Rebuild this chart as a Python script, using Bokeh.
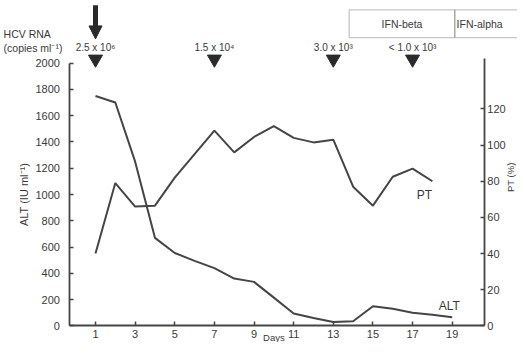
import math
from bokeh.plotting import figure
from bokeh.models import (Range1d, LinearAxis, FixedTicker, Label, Arrow, NormalHead,
                          BoxAnnotation, PolyAnnotation)
from bokeh.core.properties import value
from bokeh.embed import file_html
from bokeh.resources import INLINE

# ---------------- data ----------------
days = list(range(1, 20))
alt = [1750, 1700, 1250, 670, 555, 495, 440, 360, 335, 215, 95, 60, 30, 35, 150, 130, 100, 85, 65]
pt_days = list(range(1, 19))
pt = [40, 79, 66, 66.5, 82, 95, 108, 96, 104.5, 110.5, 104, 101.5, 103, 77, 66.5, 82.5, 87, 80]
rna_days = [1, 7, 13, 17]
rna_labels = ["2.5 x 10\u2076", "1.5 x 10\u2074", "3.0 x 10\u00b3", "< 1.0 x 10\u00b3"]
x_ticks = [1, 3, 5, 7, 9, 11, 13, 15, 17, 19]
alt_ticks = [0, 200, 400, 600, 800, 1000, 1200, 1400, 1600, 1800, 2000]
pt_ticks = [0, 20, 40, 60, 80, 100, 120]
ifn_beta_start = 13.8
ifn_alpha_start = 19.13
treatment_day = 1

# axis placement (days)
x_left, x_right = -0.29, 20.62

FONT = value("Liberation Sans")
TXT = "#3a3a3a"
LINE = "#454545"

p = figure(width=517, height=342, x_range=Range1d(-3.794, 22.295), y_range=Range1d(-126.3, 2476.4),
           output_backend="svg", toolbar_location=None, min_border=0,
           x_axis_location=None, y_axis_location=None)
p.extra_y_ranges = {"pt": Range1d(-9.18, 179.98)}
p.xgrid.visible = False
p.ygrid.visible = False
p.outline_line_color = None

def style_axis(ax, standoff):
    ax.axis_line_color = LINE
    ax.axis_line_width = 1.8
    ax.major_tick_line_color = LINE
    ax.major_tick_line_width = 1.5
    ax.major_tick_in = 4
    ax.major_tick_out = 0
    ax.minor_tick_line_color = None
    ax.major_label_text_font = "Liberation Sans"
    ax.major_label_text_font_size = "11px"
    ax.major_label_text_color = TXT
    ax.major_label_standoff = standoff
    ax.axis_label_text_font = "Liberation Sans"
    ax.axis_label_text_font_style = "normal"
    ax.axis_label_text_color = TXT

# x axis
xa = LinearAxis(ticker=FixedTicker(ticks=x_ticks), fixed_location=0, bounds=(x_left, x_right))
style_axis(xa, 4)
p.add_layout(xa, "below")

# left axis
ya = LinearAxis(ticker=FixedTicker(ticks=alt_ticks), fixed_location=x_left, bounds=(0, 2000))
style_axis(ya, 10)
ya.axis_label = "ALT (IU ml\u207b\u00b9)"
ya.axis_label_text_font_size = "11px"
ya.axis_label_standoff = 2
p.add_layout(ya, "left")

# right axis
ra = LinearAxis(y_range_name="pt", ticker=FixedTicker(ticks=pt_ticks), bounds=(0, 148),
                fixed_location=x_right)
style_axis(ra, 3)
ra.axis_label = "PT (%)"
ra.axis_label_orientation = math.pi / 2
ra.axis_label_text_font_size = "9.5px"
ra.axis_label_standoff = 2
p.add_layout(ra, "right")

# data lines
p.line(days, alt, line_width=2, line_color=LINE)
p.line(pt_days, pt, line_width=2, line_color=LINE, y_range_name="pt")

# HCV RNA markers
marker_level = 2030
label_level = 2115
p.scatter(x=rna_days, y=[marker_level] * len(rna_days), marker="inverted_triangle",
          size=14, fill_color="#2a2a2a", line_color="#2a2a2a")
p.text(x=rna_days, y=[label_level] * len(rna_days), text=rna_labels,
       text_font=FONT, text_font_size="10px", text_color=TXT,
       text_align="center", text_baseline="middle")

# treatment arrow
p.add_layout(Arrow(x_start=treatment_day, y_start=2440, x_end=treatment_day, y_end=2184,
                   line_width=5, line_color="#2a2a2a",
                   end=NormalHead(size=13, fill_color="#2a2a2a", line_color="#2a2a2a")))

# IFN boxes
box_bottom, box_top = 2194, 2405
box_mid = (box_bottom + box_top) / 2
p.add_layout(BoxAnnotation(left=ifn_beta_start, right=ifn_alpha_start, bottom=box_bottom, top=box_top,
                           fill_color=None, line_color=LINE, line_width=1.3))
p.add_layout(PolyAnnotation(xs=[ifn_alpha_start, 23, 23, ifn_alpha_start],
                            ys=[box_bottom, box_bottom, box_top, box_top],
                            fill_color=None, line_color=LINE, line_width=1.3))

def lab(x, y, t, size, align="left"):
    p.add_layout(Label(x=x, y=y, text=t, text_font="Liberation Sans", text_font_size=size,
                       text_color=TXT, text_align=align, text_baseline="middle"))

lab((ifn_beta_start + ifn_alpha_start) / 2, box_mid, "IFN-beta", "10.5px", "center")
lab(ifn_alpha_start + 0.09, box_mid, "IFN-alpha", "10.5px")
lab(-3.64, 2218, "HCV RNA", "10.5px")
lab(-3.64, 2115, "(copies ml\u207b\u00b9)", "10.5px")
lab(10.0, -88, "Days", "9.5px", "center")
lab(17.6, 1000, "PT", "12px", "center")
lab(18.85, 150, "ALT", "12px", "center")

open("out.html", "w").write(file_html(p, INLINE))
